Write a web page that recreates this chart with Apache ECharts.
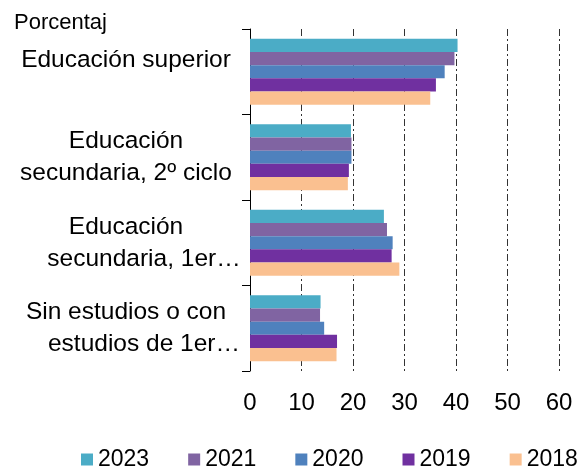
<!DOCTYPE html>
<html>
<head>
<meta charset="utf-8">
<script src="https://cdn.jsdelivr.net/npm/echarts@6/dist/echarts.min.js"></script>
<style>
  html, body { margin: 0; padding: 0; background: #fff; }
  #chart { width: 582px; height: 472px; }
</style>
</head>
<body>
<div id="chart"></div>
<script>
// categories, top to bottom
var categories = [
  'Educación superior',
  'Educación\nsecundaria, 2º ciclo',
  'Educación\nsecundaria, 1er…',
  'Sin estudios o con\nestudios de 1er…'
];
var years = ['2023', '2021', '2020', '2019', '2018'];
var colors = ['#4BACC6', '#8064A2', '#4F81BD', '#7030A0', '#FAC090'];

// percent values per year, same order as categories
var v2023 = [40.3, 19.6, 26.0, 13.7];
var v2021 = [39.7, 19.7, 26.6, 13.6];
var v2020 = [37.8, 19.7, 27.7, 14.4];
var v2019 = [36.1, 19.2, 27.5, 16.9];
var v2018 = [35.0, 19.0, 29.0, 16.8];
var values = [v2023, v2021, v2020, v2019, v2018];

var xTicks = [0, 10, 20, 30, 40, 50, 60];

var font = 'Liberation Sans, Arial, sans-serif';

var series = years.map(function (y, i) {
  return {
    name: y,
    type: 'bar',
    data: values[i],
    barGap: '0%',
    barCategoryGap: '23%',
    itemStyle: { color: colors[i] }
  };
});

var myChart = echarts.init(document.getElementById('chart'));
var option = {
  backgroundColor: '#fff',
  animation: false,
  title: {
    text: 'Porcentaj',
    left: 9,
    top: 7,
    textStyle: { fontFamily: font, fontSize: 22, fontWeight: 'normal', color: '#000' }
  },
  grid: { left: 250, right: 23, top: 29, bottom: 101, containLabel: false },
  legend: {
    data: years,
    bottom: 1,
    left: 81,
    padding: 0,
    icon: 'rect',
    itemWidth: 12,
    itemHeight: 12,
    itemGap: 39,
    textStyle: { fontFamily: font, fontSize: 23, color: '#000' }
  },
  xAxis: {
    type: 'value',
    min: xTicks[0],
    max: xTicks[xTicks.length - 1],
    interval: 10,
    axisLine: { show: false },
    axisTick: { show: false },
    axisLabel: { fontFamily: font, fontSize: 24, color: '#000', margin: 20 },
    splitLine: {
      show: true,
      lineStyle: { color: '#333', width: 1, type: [7, 3, 2, 3] }
    }
  },
  yAxis: {
    type: 'category',
    inverse: true,
    data: categories,
    axisLine: { show: true, lineStyle: { color: '#000', width: 1 } },
    axisTick: { show: true, inside: false, length: 8, lineStyle: { color: '#000' } },
    axisLabel: {
      fontFamily: font,
      fontSize: 24.5,
      color: '#000',
      align: 'center',
      margin: 124,
      lineHeight: 32,
      formatter: function (v) {
        var lines = v.split('\n');
        // single-line label sits a little above the band centre
        if (lines.length === 1) return '{one|' + v + '}';
        // truncated lines are pushed right a bit, as in the original
        return lines.map(function (l) {
          return l.slice(-1) === '…' ? '{cut|' + l + '}' : '{n|' + l + '}';
        }).join('\n');
      },
      rich: {
        one: { fontFamily: font, fontSize: 24.5, color: '#000', padding: [0, 0, 24, 0] },
        n: { fontFamily: font, fontSize: 24.5, color: '#000', lineHeight: 32 },
        cut: { fontFamily: font, fontSize: 24.5, color: '#000', lineHeight: 32, padding: [0, 0, 0, 36] }
      }
    },
    splitLine: { show: false }
  },
  series: series
};
myChart.setOption(option);
window.addEventListener('resize', function () { myChart.resize(); });
</script>
</body>
</html>
